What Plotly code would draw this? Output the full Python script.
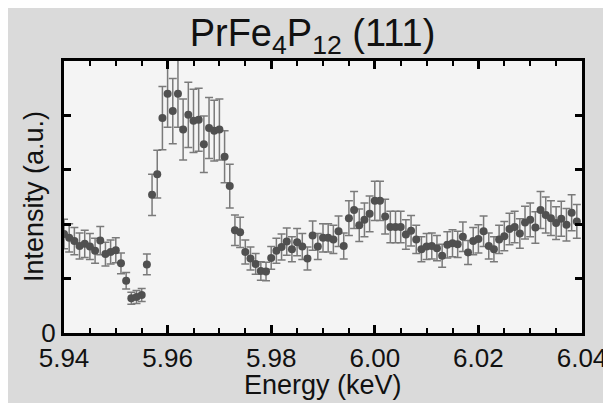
import plotly.graph_objects as go

energy = [5.940, 5.941, 5.942, 5.943, 5.944, 5.945, 5.946, 5.947, 5.948, 5.949,
          5.950, 5.951, 5.952, 5.953, 5.954, 5.955, 5.956, 5.957, 5.958, 5.959,
          5.960, 5.961, 5.962, 5.963, 5.964, 5.965, 5.966, 5.967, 5.968, 5.969,
          5.970, 5.971, 5.972, 5.973, 5.974, 5.975, 5.976, 5.977, 5.978, 5.979,
          5.980, 5.981, 5.982, 5.983, 5.984, 5.985, 5.986, 5.987, 5.988, 5.989,
          5.990, 5.991, 5.992, 5.993, 5.994, 5.995, 5.996, 5.997, 5.998, 5.999,
          6.000, 6.001, 6.002, 6.003, 6.004, 6.005, 6.006, 6.007, 6.008, 6.009,
          6.010, 6.011, 6.012, 6.013, 6.014, 6.015, 6.016, 6.017, 6.018, 6.019,
          6.020, 6.021, 6.022, 6.023, 6.024, 6.025, 6.026, 6.027, 6.028, 6.029,
          6.030, 6.031, 6.032, 6.033, 6.034, 6.035, 6.036, 6.037, 6.038, 6.039]

intensity = [1.82, 1.75, 1.69, 1.60, 1.64, 1.59, 1.51, 1.70, 1.45, 1.49,
             1.52, 1.28, 0.96, 0.64, 0.66, 0.70, 1.26, 2.54, 2.92, 3.95,
             4.40, 4.08, 4.40, 3.74, 4.01, 3.90, 3.92, 3.47, 3.77, 3.72,
             3.74, 3.24, 2.70, 1.89, 1.85, 1.49, 1.37, 1.27, 1.14, 1.13,
             1.38, 1.51, 1.58, 1.68, 1.54, 1.67, 1.59, 1.37, 1.79, 1.59,
             1.75, 1.75, 1.72, 1.87, 1.60, 2.11, 2.26, 1.98, 2.08, 2.19,
             2.43, 2.43, 2.14, 1.95, 1.95, 1.95, 1.81, 1.88, 1.72, 1.54,
             1.59, 1.60, 1.56, 1.42, 1.62, 1.65, 1.63, 1.77, 1.48, 1.69,
             1.73, 1.87, 1.60, 1.54, 1.72, 1.78, 1.91, 1.95, 1.83, 2.03,
             2.08, 1.94, 2.26, 2.17, 2.11, 2.02, 2.10, 1.99, 2.21, 2.05]

error = [0.27, 0.26, 0.25, 0.24, 0.25, 0.24, 0.23, 0.26, 0.22, 0.22,
         0.23, 0.19, 0.15, 0.11, 0.12, 0.12, 0.19, 0.38, 0.44, 0.58,
         0.62, 0.60, 0.62, 0.56, 0.60, 0.58, 0.58, 0.52, 0.56, 0.56,
         0.56, 0.48, 0.40, 0.28, 0.28, 0.22, 0.21, 0.19, 0.17, 0.17,
         0.21, 0.23, 0.24, 0.25, 0.23, 0.25, 0.24, 0.21, 0.27, 0.24,
         0.26, 0.26, 0.26, 0.28, 0.24, 0.32, 0.34, 0.30, 0.31, 0.33,
         0.36, 0.36, 0.32, 0.29, 0.29, 0.29, 0.27, 0.28, 0.26, 0.23,
         0.24, 0.24, 0.23, 0.21, 0.24, 0.25, 0.24, 0.27, 0.22, 0.25,
         0.26, 0.28, 0.24, 0.23, 0.26, 0.27, 0.29, 0.29, 0.27, 0.30,
         0.31, 0.29, 0.34, 0.33, 0.32, 0.30, 0.32, 0.30, 0.33, 0.31]

x_tickvals = [5.94, 5.96, 5.98, 6.00, 6.02, 6.04]
x_ticktext = ["5.94", "5.96", "5.98", "6.00", "6.02", "6.04"]
y_tickvals = [0]
y_ticktext = ["0"]

FONT = "Liberation Sans, Arial, sans-serif"
TXT = "#111111"

# figure sits 8px into the page (body margin); plot area in figure px: x 56..574, y 53..325
L, T, PW, PH = 56, 53, 518, 272
R, B = 611 - L - PW, 403 - T - PH

fig = go.Figure()
fig.add_trace(go.Scatter(
    x=energy, y=intensity, mode="markers",
    marker=dict(size=8, color="#505050"),
    error_y=dict(type="data", array=error, visible=True,
                 color="#7a7a7a", thickness=1.5, width=4),
    showlegend=False,
))

fig.update_layout(
    width=611, height=403,
    margin=dict(l=L, r=R, t=T, b=B, autoexpand=False),
    paper_bgcolor="#dadada",
    plot_bgcolor="#f4f4f4",
    font=dict(family=FONT, color=TXT),
    title=dict(text="PrFe<sub>4</sub>P<sub>12</sub> (111)",
               x=304.5 / 611, xref="container", xanchor="center",
               y=1 - 25 / 403, yref="container", yanchor="middle",
               font=dict(size=38, family=FONT, color=TXT)),
    annotations=[
        dict(text="Energy (keV)", xref="paper", yref="paper",
             x=0.5, y=-(377 - 325) / PH,
             xanchor="center", yanchor="middle", showarrow=False,
             font=dict(size=27, family=FONT, color=TXT)),
        dict(text="Intensity (a.u.)", xref="paper", yref="paper",
             x=(26 - L) / PW, y=0.5, textangle=-90,
             xanchor="center", yanchor="middle", showarrow=False,
             font=dict(size=27, family=FONT, color=TXT)),
    ],
)

fig.update_xaxes(
    range=[5.94, 6.04], tickvals=x_tickvals, ticktext=x_ticktext,
    ticks="inside", ticklen=8, tickwidth=2.5, tickcolor="black",
    minor=dict(dtick=0.005, tick0=5.94, ticks="inside", ticklen=5,
               tickwidth=2, tickcolor="black"),
    showline=True, linewidth=3, linecolor="black", mirror="ticks",
    showgrid=False, zeroline=False, automargin=False,
    tickfont=dict(size=26, family=FONT, color=TXT),
)
fig.update_yaxes(
    range=[0, 5], tickvals=y_tickvals, ticktext=y_ticktext,
    ticks="inside", ticklen=7, tickwidth=2.5, tickcolor="black",
    minor=dict(dtick=1, tick0=0, ticks="inside", ticklen=7,
               tickwidth=2.5, tickcolor="black"),
    showline=True, linewidth=3, linecolor="black", mirror="ticks",
    showgrid=False, zeroline=False, automargin=False,
    tickfont=dict(size=26, family=FONT, color=TXT),
)

fig.write_html("out.html")
